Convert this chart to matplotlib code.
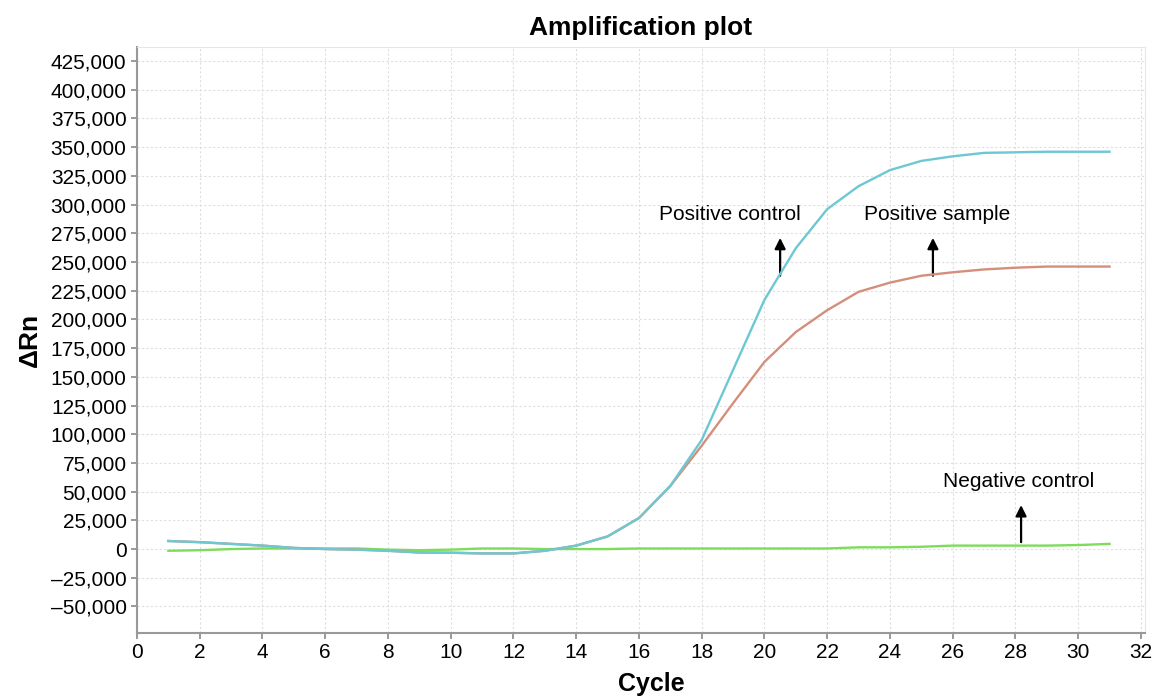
import numpy as np
import matplotlib
matplotlib.use("Agg")
import matplotlib.pyplot as plt
from matplotlib.ticker import FuncFormatter, MultipleLocator

plt.rcParams['font.family'] = ['Liberation Sans', 'DejaVu Sans']

# cycle numbers
cycles = list(range(1, 32))

# delta Rn
pos_control = [7000, 6000, 4500, 3000, 1000, 0, -500, -1500, -3000, -3200,
               -3800, -3800, -1500, 3000, 11000, 27000, 55000, 95000, 156000, 217000,
               262000, 296000, 316000, 330000, 338000, 342000, 345000, 345500, 346000, 346000,
               346000]
pos_sample = [7000, 6000, 4500, 3000, 1000, 0, -500, -1500, -3000, -3200,
              -3800, -3800, -1500, 3000, 11000, 27000, 55000, 90000, 127000, 163000,
              189000, 208000, 224000, 232000, 238000, 241000, 243500, 245000, 246000, 246000,
              246000]
neg_control = [-1500, -1000, 0, 500, 500, 500, 500, -500, -1000, -500,
               500, 500, 0, 0, 0, 500, 500, 500, 500, 500,
               500, 500, 1500, 1500, 2000, 3000, 3000, 3000, 3000, 3500,
               4500]

fig = plt.figure(figsize=(11.58, 6.96), dpi=100)
ax = fig.add_axes([137/1158, 1 - 633/696, (1145 - 137)/1158, (633 - 47)/696])

ax.plot(cycles, neg_control, color='#7ddc5c', lw=1.7, zorder=3)
ax.plot(cycles, pos_sample, color='#d48e7c', lw=1.7, zorder=4)
ax.plot(cycles, pos_control, color='#6cc8d2', lw=1.7, zorder=5)

ax.set_xlim(0, 32.13)
ax.set_ylim(-73100, 437200)
ax.xaxis.set_major_locator(MultipleLocator(2))
ax.yaxis.set_major_locator(MultipleLocator(25000))
ax.yaxis.set_major_formatter(FuncFormatter(lambda v, p: format(int(v), ',').replace('-', '\u2013')))

ax.grid(True, color='#dedede', ls=(0, (2, 2)), lw=0.8)
ax.tick_params(labelsize=15, length=4, color='#888888', width=1.2)
for s in ['left', 'bottom']:
    ax.spines[s].set_color('#999999')
    ax.spines[s].set_linewidth(1.5)
for s in ['top', 'right']:
    ax.spines[s].set_color('#e6e6e6')

ax.set_title('Amplification plot', fontsize=19, fontweight='bold', pad=9)
ax.set_xlabel('Cycle', fontsize=18, fontweight='bold')
ax.set_ylabel('\u0394Rn', fontsize=19, fontweight='bold', labelpad=6)
ax.xaxis.set_label_coords(0.51, -0.067)

arrow = dict(arrowstyle='-|>', color='black', lw=1.6, mutation_scale=16, shrinkA=0, shrinkB=0)
ax.annotate('', xy=(20.5, 271000), xytext=(20.5, 238000), arrowprops=arrow)
ax.annotate('', xy=(25.37, 271000), xytext=(25.37, 238000), arrowprops=arrow)
ax.annotate('', xy=(28.18, 38300), xytext=(28.18, 6000), arrowprops=arrow)
ax.text(18.9, 291000, 'Positive control', fontsize=15, ha='center', va='center')
ax.text(25.5, 291000, 'Positive sample', fontsize=15, ha='center', va='center')
ax.text(28.1, 59000, 'Negative control', fontsize=15, ha='center', va='center')

fig.savefig('out.png', dpi=100)
